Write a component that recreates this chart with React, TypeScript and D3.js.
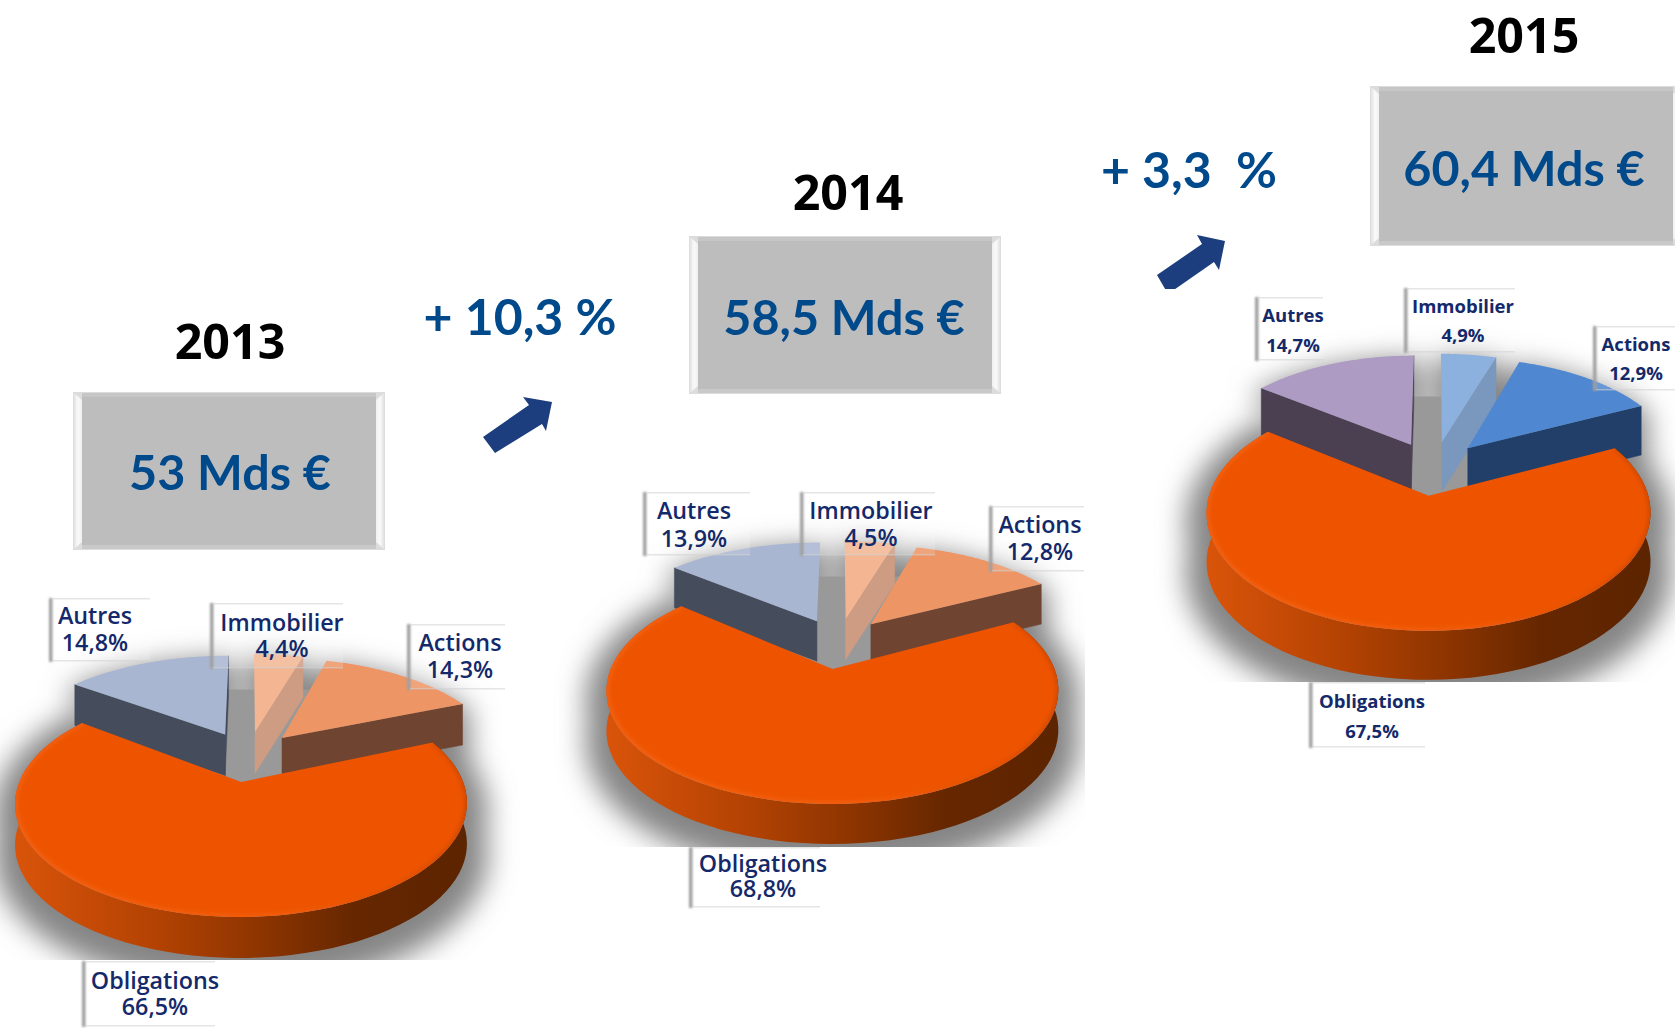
import React from "react";
import * as d3 from "d3";

// ---- data ----
const categories = ["Immobilier", "Actions", "Obligations", "Autres"];
const years = ["2013", "2014", "2015"];
const shares2013 = [4.4, 14.3, 66.5, 14.8];
const shares2014 = [4.5, 12.8, 68.8, 13.9];
const shares2015 = [4.9, 12.9, 67.5, 14.7];
const shareLabels2013 = ["4,4%", "14,3%", "66,5%", "14,8%"];
const shareLabels2014 = ["4,5%", "12,8%", "68,8%", "13,9%"];
const shareLabels2015 = ["4,9%", "12,9%", "67,5%", "14,7%"];
const totals = ["53 Mds €", "58,5 Mds €", "60,4 Mds €"];
const growth = ["+ 10,3 %", "+ 3,3  %"];

// ---- layout / style ----
const warm = { Immobilier: ["#F3B592", "#CE9C82"], Actions: ["#EE9566", "#6F4430"], Autres: ["#A9B6D2", "#454D5C"] };
const cool = { Immobilier: ["#8DB1DE", "#7A97BD"], Actions: ["#4F87D0", "#213F68"], Autres: ["#AE9BC3", "#4A4052"] };
const pieLayouts = [
  { x0: 248, y0: 756, Rx: 212, A: 100, k: 0.18, e: 0.25, fu: 1.03, depth: 41, palette: warm, clipR: 1675, clipB: 960, labelSize: 23.3, labelWeight: 600,
    labels: [
      { l: 213, t: 604, r: 343, b: 668, c: 282, b1: 631, b2: 657 },
      { l: 410, t: 625, r: 505, b: 689, c: 460, b1: 651, b2: 678 },
      { l: 85, t: 962, r: 215, b: 1026, c: 155, b1: 989, b2: 1015 },
      { l: 52, t: 599, r: 150, b: 661, c: 95, b1: 624, b2: 651 },
    ] },
  { x0: 838.5, y0: 643, Rx: 212, A: 100, k: 0.18, e: 0.25, fu: 1.03, depth: 40, palette: warm, clipR: 1085, clipB: 847, labelSize: 23.3, labelWeight: 600,
    labels: [
      { l: 803, t: 493, r: 935, b: 555, c: 871, b1: 519, b2: 546 },
      { l: 992, t: 507, r: 1084, b: 571, c: 1040, b1: 533, b2: 560 },
      { l: 692, t: 848, r: 820, b: 907, c: 763, b1: 872, b2: 897 },
      { l: 646, t: 493, r: 750, b: 555, c: 694, b1: 519, b2: 547 },
    ] },
  { x0: 1434, y0: 468, Rx: 212, A: 107.6, k: 0.14, e: 0.25, fu: 1, depth: 49, palette: cool, clipR: 1675, clipB: 682, labelSize: 18.5, labelWeight: 700,
    labels: [
      { l: 1407, t: 289, r: 1515, b: 352, c: 1463, b1: 313, b2: 342 },
      { l: 1596, t: 327, r: 1675, b: 390, c: 1636, b1: 351, b2: 380 },
      { l: 1312, t: 683, r: 1425, b: 747, c: 1372, b1: 708, b2: 738 },
      { l: 1258, t: 298, r: 1323, b: 360, c: 1293, b1: 322, b2: 352 },
    ] },
];
const boxes = [
  { x: 73, y: 392, h: 158, tx: 230, ty: 471, yearX: 230, yearY: 340 },
  { x: 689, y: 236, h: 158, tx: 844, ty: 316, yearX: 848, yearY: 191 },
  { x: 1370, y: 86, h: 160, tx: 1524, ty: 167, yearX: 1524, yearY: 34 },
];
const boxW = 312;
const growthPos = [{ x: 520, y: 316 }, { x: 1189, y: 169 }];
const arrows = [
  { pts: [[483, 437], [495, 453], [542, 424], [546, 431], [552, 402], [523, 397], [529, 405]] },
  { pts: [[1157, 275], [1168, 294], [1214, 262], [1219, 270], [1225, 241], [1197, 235], [1202, 244]], clipB: 289 },
];
const BLUE = "#004A8C";
const NAVY = "#14296A";
const FONT = "'Open Sans'";
const line = d3.line();
const closed = (pts) => line(pts) + "Z";

function makeGeom(values, p) {
  const sx = d3.scaleLinear().domain([-1, 1]).range([p.x0 - p.Rx, p.x0 + p.Rx]);
  const sy = d3.scaleLinear().domain([-1, 1]).range([p.y0 + p.A, p.y0 - p.A]);
  const proj = (u, v) => {
    const w = 1 + p.k * v;
    return [sx(u / w), sy(v / w)];
  };
  const arcs = d3.pie().sort(null).value((d) => d)(values);
  return arcs.map((a, i) => {
    const mid = (a.startAngle + a.endAngle) / 2;
    const au = p.e * Math.sin(mid), av = p.e * Math.cos(mid);
    const apex = proj(au, av);
    const steps = 80;
    const stretch = categories[i] === "Obligations" ? 1 : p.fu;
    const rim = d3.range(steps + 1).map((j) => {
      const t = a.startAngle + ((a.endAngle - a.startAngle) * j) / steps;
      return proj(au + stretch * Math.sin(t), av + Math.cos(t));
    });
    const down = (q) => [q[0], q[1] + p.depth];
    return {
      name: categories[i],
      a,
      apex,
      rim,
      face: closed([apex, ...rim]),
      startSide: closed([apex, rim[0], down(rim[0]), down(apex)]),
      endSide: closed([apex, rim[steps], down(rim[steps]), down(apex)]),
      outerSide: closed([...rim, ...rim.map(down).reverse()]),
      silhouette: closed([apex, ...rim, ...rim.map(down).reverse(), down(apex)]),
      rimLine: line(rim),
      down,
    };
  });
}

function Pie({ values, shareLabels, p, id }) {
  const g = makeGeom(values, p);
  const by = (n) => g.find((s) => s.name === n);
  const imm = by("Immobilier"), act = by("Actions"), obl = by("Obligations"), aut = by("Autres");
  const top = p.y0 - 0.665 * p.A;
  const core = [
    [aut.apex[0], top],
    [aut.apex[0] + 84, top],
    act.down(act.apex),
    obl.apex,
    aut.down(aut.apex),
  ];
  const solid = [aut, imm, act];
  return (
    <g>
      <clipPath id={`shadow-${id}`}>
        <rect x={0} y={0} width={p.clipR} height={p.clipB} />
      </clipPath>
      <clipPath id={`face-${id}`}>
        <path d={obl.face} />
      </clipPath>
      <g clipPath={`url(#shadow-${id})`}>
        <g filter="url(#shadowBlur)" transform="translate(0,10)">
          {g.map((s) => (
            <path key={s.name} d={s.silhouette} fill="#858585" stroke="#858585" strokeWidth={s === obl ? 42 : 14} strokeLinejoin="round" />
          ))}
        </g>
      </g>
      <path d={closed(core)} fill="#999999" />
      {solid.map((s) => {
        const [topC, sideC] = p.palette[s.name];
        const showStart = Math.sin(s.a.startAngle) < 0;
        const showEnd = Math.sin(s.a.endAngle) > 0;
        return (
          <g key={s.name}>
            {showStart && <path d={s.startSide} fill={sideC} stroke={sideC} strokeWidth={0.5} />}
            {showEnd && <path d={s.endSide} fill={sideC} stroke={sideC} strokeWidth={0.5} />}
            <path d={s.face} fill={topC} />
          </g>
        );
      })}
      <path d={obl.outerSide} fill="url(#sideGrad)" />
      <path d={obl.face} fill="#EE5400" />
      <g clipPath={`url(#face-${id})`}>
        <path d={obl.rimLine} fill="none" stroke="url(#rimGrad)" strokeWidth={5} strokeOpacity={0.5} filter="url(#rimBlur)" />
      </g>
      {g.map((s, i) => {
        const r = p.labels[i];
        return (
          <g key={s.name}>
            <rect x={r.l} y={r.t} width={r.r - r.l} height={r.b - r.t} fill="#fff" fillOpacity={0.15} />
            <rect x={r.l - 3} y={r.t - 1} width={3.5} height={r.b - r.t + 2} fill="#a0a0a0" filter="url(#edgeBlur)" />
            <rect x={r.l} y={r.t - 1} width={r.r - r.l} height={1.5} fill="#cfcfcf" fillOpacity={0.55} />
            <rect x={r.l} y={r.b - 1} width={r.r - r.l} height={1.5} fill="#cfcfcf" fillOpacity={0.55} />
            <text x={r.c} y={r.b1} textAnchor="middle" fontFamily={FONT} fontWeight={p.labelWeight} fontSize={p.labelSize} fill={NAVY}>{s.name}</text>
            <text x={r.c} y={r.b2} textAnchor="middle" fontFamily={FONT} fontWeight={p.labelWeight} fontSize={p.labelSize} fill={NAVY}>{shareLabels[i]}</text>
          </g>
        );
      })}
    </g>
  );
}

function Box({ b, text, year }) {
  const { x, y, h } = b;
  const w = boxW, s = 9, st = 4;
  return (
    <g>
      <rect x={x} y={y} width={w} height={h} fill="#DCDCDC" />
      <rect x={x + s} y={y + st} width={w - 2 * s} height={h - 2 * st} fill="#BDBDBD" />
      <path d={closed([[x + 1, y + 1], [x + s, y + st + 4], [x + s, y + h - st - 4], [x + 1, y + h - 1]])} fill="url(#bevelL)" />
      <path d={closed([[x + w - 1, y + 1], [x + w - s, y + st + 4], [x + w - s, y + h - st - 4], [x + w - 1, y + h - 1]])} fill="url(#bevelR)" />
      <rect x={x + s} y={y + 1} width={w - 2 * s} height={st} fill="#C6C6C6" />
      <rect x={x + s} y={y + h - st - 1} width={w - 2 * s} height={st} fill="#C9C9C9" />
      <text x={b.tx} y={b.ty} textAnchor="middle" dominantBaseline="central" fontFamily="Lato" fontWeight={700} fontSize={48.5} fill={BLUE}>{text}</text>
      <text x={b.yearX} y={b.yearY} textAnchor="middle" dominantBaseline="central" fontFamily={FONT} fontWeight={700} fontSize={48.4} fill="#000">{year}</text>
    </g>
  );
}

export default function App() {
  return (
    <svg width={1675} height={1028} viewBox="0 0 1675 1028" style={{ position: "absolute", left: 0, top: 0, display: "block", background: "#fff" }}>
      <defs>
        <filter id="shadowBlur" x="-30%" y="-30%" width="160%" height="160%"><feGaussianBlur stdDeviation="14" /></filter>
        <filter id="rimBlur" x="-10%" y="-10%" width="120%" height="120%"><feGaussianBlur stdDeviation="2" /></filter>
        <filter id="edgeBlur" x="-100%" y="-10%" width="300%" height="120%"><feGaussianBlur stdDeviation="0.9" /></filter>
        <linearGradient id="sideGrad" x1="0" x2="1" y1="0" y2="0">
          <stop offset="0" stopColor="#D9540A" />
          <stop offset="0.3" stopColor="#B54303" />
          <stop offset="0.55" stopColor="#8C3400" />
          <stop offset="0.75" stopColor="#662700" />
          <stop offset="1" stopColor="#5C2400" />
        </linearGradient>
        <linearGradient id="rimGrad" x1="0" x2="1" y1="0" y2="0">
          <stop offset="0" stopColor="#F8702A" />
          <stop offset="0.6" stopColor="#F4661C" />
          <stop offset="0.85" stopColor="#D34A00" />
          <stop offset="1" stopColor="#B03C00" />
        </linearGradient>
        <linearGradient id="bevelL" x1="0" x2="1" y1="0" y2="0">
          <stop offset="0" stopColor="#E2E2E2" />
          <stop offset="0.5" stopColor="#FAFAFA" />
          <stop offset="1" stopColor="#F0F0F0" />
        </linearGradient>
        <linearGradient id="bevelR" x1="1" x2="0" y1="0" y2="0">
          <stop offset="0" stopColor="#E2E2E2" />
          <stop offset="0.5" stopColor="#FAFAFA" />
          <stop offset="1" stopColor="#F0F0F0" />
        </linearGradient>
        <clipPath id="arrowClip"><rect x={1100} y={200} width={200} height={89} /></clipPath>
      </defs>
      <Pie id="a" values={shares2013} shareLabels={shareLabels2013} p={pieLayouts[0]} />
      <Pie id="b" values={shares2014} shareLabels={shareLabels2014} p={pieLayouts[1]} />
      <Pie id="c" values={shares2015} shareLabels={shareLabels2015} p={pieLayouts[2]} />
      {boxes.map((b, i) => <Box key={i} b={b} text={totals[i]} year={years[i]} />)}
      {growth.map((t, i) => (
        <text key={i} x={growthPos[i].x} y={growthPos[i].y} textAnchor="middle" dominantBaseline="central" fontFamily="Lato" fontWeight={700} fontSize={50} fill={BLUE} style={{ whiteSpace: "pre" }} xmlSpace="preserve">{t}</text>
      ))}
      {arrows.map((a, i) => (
        <path key={i} d={closed(a.pts)} fill="#1D3E7E" clipPath={a.clipB ? "url(#arrowClip)" : undefined} />
      ))}
    </svg>
  );
}
